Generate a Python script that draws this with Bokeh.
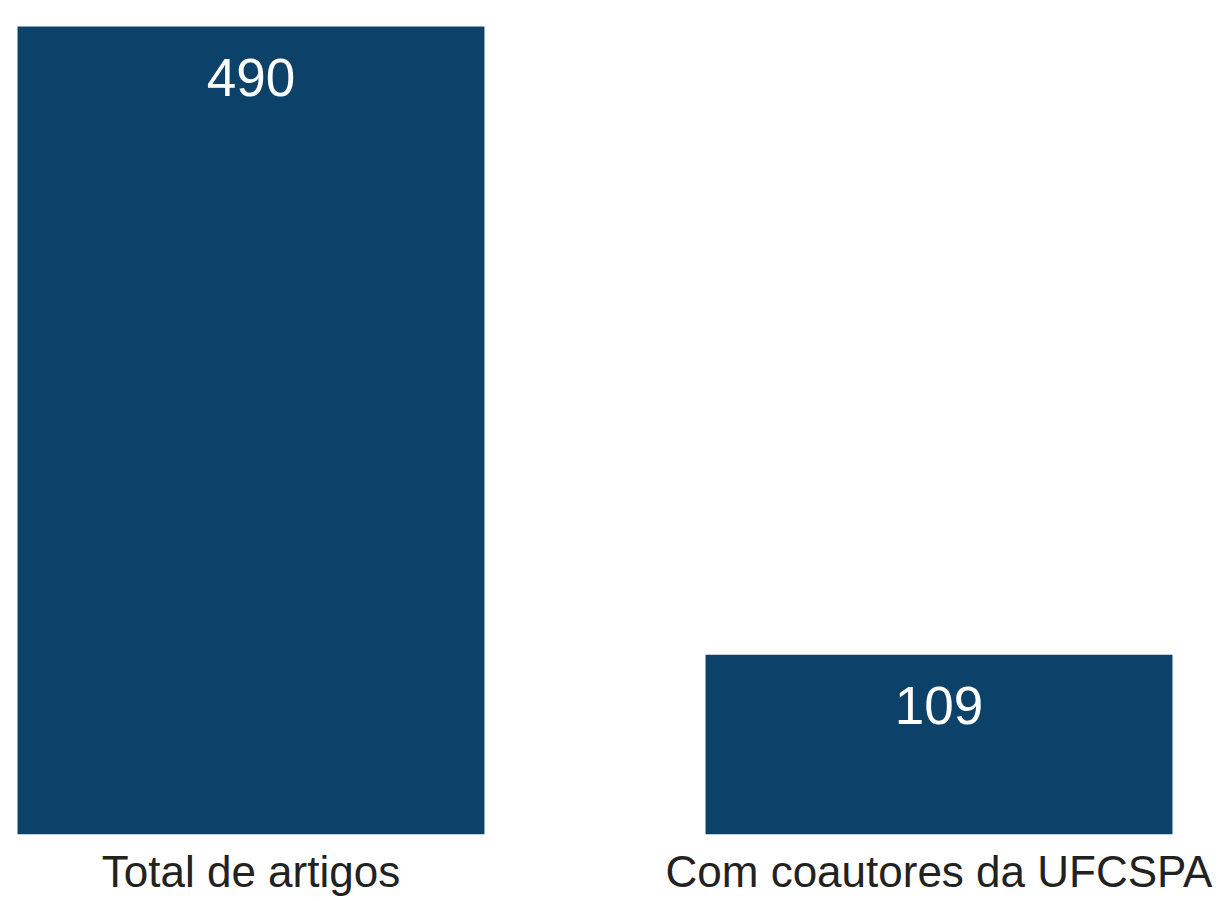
from bokeh.plotting import figure
from bokeh.models import ColumnDataSource, FactorRange, Range1d
from bokeh.core.properties import value
from bokeh.embed import file_html
from bokeh.resources import INLINE

categories = ["Total de artigos", "Com coautores da UFCSPA"]
counts = [490, 109]
count_labels = [str(c) for c in counts]

BAR_COLOR = "#0C416A"

source = ColumnDataSource(dict(cat=categories, val=counts, lab=count_labels))

p = figure(
    frame_width=1189, frame_height=834,
    x_range=FactorRange(*categories, factor_padding=0.3733, range_padding=0),
    y_range=Range1d(0, 505.8),
    output_backend="svg", toolbar_location=None,
    min_border_left=0, min_border_right=25, min_border_top=0, min_border_bottom=64,
)

p.vbar(x="cat", top="val", width=0.932, source=source,
       fill_color=BAR_COLOR, line_color=None)

p.text(x="cat", y="val", text="lab", source=source,
       text_color="white", text_font=value("Liberation Sans"),
       text_font_size="53px", text_align="center", text_baseline="middle",
       y_offset=51)

p.yaxis.visible = False
p.xgrid.grid_line_color = None
p.ygrid.grid_line_color = None
p.outline_line_color = None
p.xaxis.axis_line_color = None
p.xaxis.major_tick_line_color = None
p.xaxis.minor_tick_line_color = None
p.xaxis.major_tick_out = 0
p.xaxis.major_tick_in = 0
p.xaxis.major_label_standoff = 12
p.xaxis.major_label_text_font = "Liberation Sans"
p.xaxis.major_label_text_font_size = "44px"
p.xaxis.major_label_text_color = "#222222"
p.background_fill_color = "white"
p.border_fill_color = "white"

open("out.html", "w").write(file_html(p, INLINE))
